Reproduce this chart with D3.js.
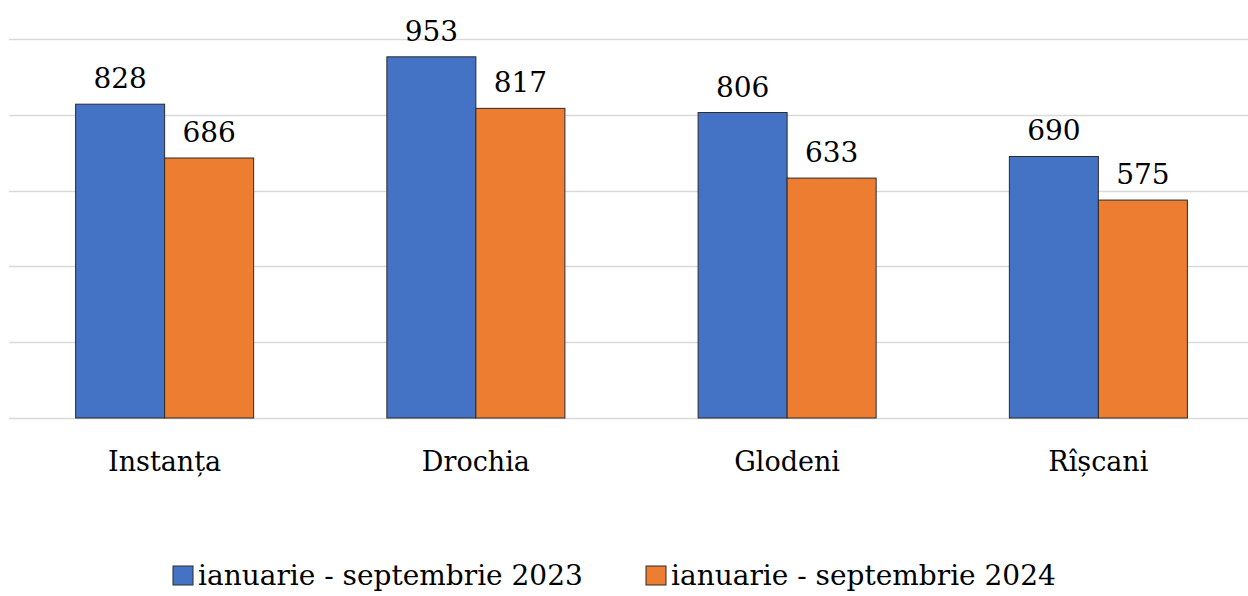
<!DOCTYPE html>
<html>
<head>
<meta charset="utf-8">
<script src="https://cdn.jsdelivr.net/npm/d3@7"></script>
<style>
  body { margin: 0; background: #fff; }
  text { font-family: "DejaVu Serif", serif; fill: #000; }
</style>
</head>
<body>
<script>
const categories = ["Instanța", "Drochia", "Glodeni", "Rîșcani"]
const seriesNames = ["ianuarie - septembrie 2023", "ianuarie - septembrie 2024"]
const values2023 = [828, 953, 806, 690]
const values2024 = [686, 817, 633, 575]
const yTicks = [0, 200, 400, 600, 800, 1000]
const colors = ["#4472C4", "#ED7D31"]

const w = 1248
const h = 596

const svg = d3.select("body")
  .append("svg")
  .attr("width", w)
  .attr("height", h)

const xScale = d3.scaleBand()
  .domain(categories)
  .range([9, 1254])
  .paddingInner(0.428)
  .paddingOuter(0.214)

const xSub = d3.scaleBand()
  .domain([0, 1])
  .range([0, xScale.bandwidth()])

const yScale = d3.scaleLinear()
  .domain([0, 1000])
  .range([418, 39])

// gridlines
svg.selectAll("line.grid")
  .data(yTicks)
  .enter()
  .append("line")
  .attr("class", "grid")
  .attr("x1", 9)
  .attr("x2", w)
  .attr("y1", d => Math.round(yScale(d)) + 0.5)
  .attr("y2", d => Math.round(yScale(d)) + 0.5)
  .style("stroke", "#d9d9d9")
  .style("stroke-width", 1.5)

const rows = categories.map((c, i) => ({cat: c, vals: [values2023[i], values2024[i]]}))

const groups = svg.selectAll("g.cat")
  .data(rows)
  .enter()
  .append("g")
  .attr("class", "cat")
  .attr("transform", d => "translate(" + xScale(d.cat) + ",0)")

groups.selectAll("rect")
  .data(d => d.vals.map((v, j) => ({v: v, j: j})))
  .enter()
  .append("rect")
  .attr("x", d => xSub(d.j))
  .attr("y", d => yScale(d.v))
  .attr("width", xSub.bandwidth())
  .attr("height", d => yScale(0) - yScale(d.v))
  .style("fill", d => colors[d.j])
  .style("stroke", "#2b2b2b")
  .style("stroke-width", 1)

groups.selectAll("text.val")
  .data(d => d.vals.map((v, j) => ({v: v, j: j})))
  .enter()
  .append("text")
  .attr("class", "val")
  .attr("x", d => xSub(d.j) + xSub.bandwidth() / 2)
  .attr("y", d => yScale(d.v) - 16)
  .style("text-anchor", "middle")
  .style("font-size", "28px")
  .text(d => d.v)

// category labels
svg.selectAll("text.cat")
  .data(categories)
  .enter()
  .append("text")
  .attr("class", "cat")
  .attr("x", d => xScale(d) + xScale.bandwidth() / 2)
  .attr("y", 471)
  .style("text-anchor", "middle")
  .style("font-size", "27px")
  .text(d => d)

// legend
const legendX = [173, 646]
const legend = svg.selectAll("g.legend")
  .data(seriesNames)
  .enter()
  .append("g")
  .attr("class", "legend")
  .attr("transform", (d, i) => "translate(" + legendX[i] + ",566)")

legend.append("rect")
  .attr("x", 0)
  .attr("y", 0)
  .attr("width", 20)
  .attr("height", 19)
  .style("fill", (d, i) => colors[i])
  .style("stroke", "#2b2b2b")
  .style("stroke-width", 1)

legend.append("text")
  .attr("x", 25)
  .attr("y", 19)
  .style("font-size", "28px")
  .text(d => d)
</script>
</body>
</html>
